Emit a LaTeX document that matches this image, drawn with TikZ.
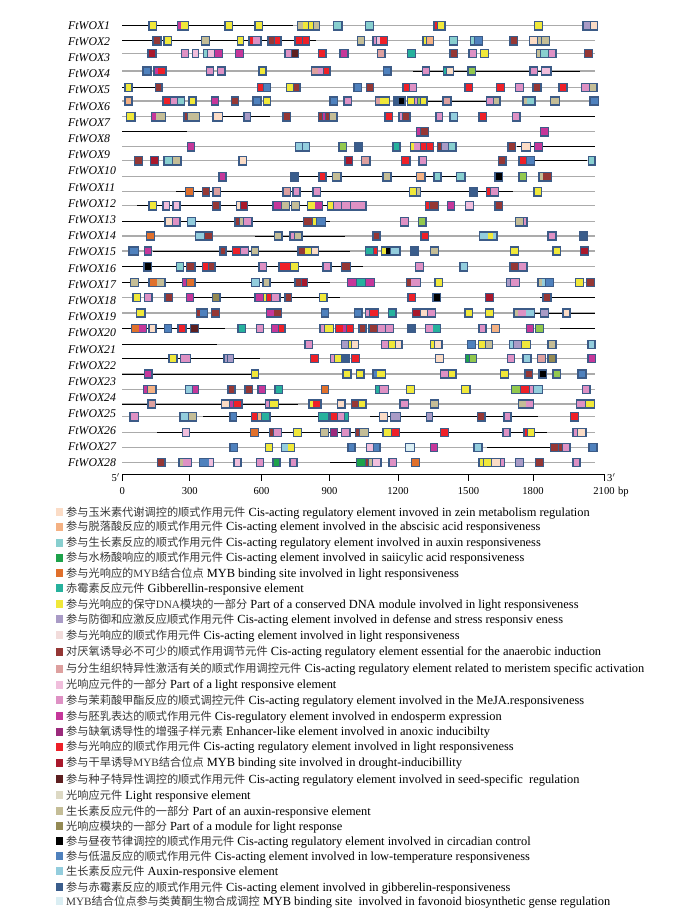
\documentclass[tikz,border=0pt]{standalone}
\usepackage{fontspec}
\setmainfont{Liberation Serif}
\newfontfamily\cjk{Noto Sans CJK SC}
\definecolor{zn}{HTML}{FBDCC6}
\definecolor{ab}{HTML}{F4B183}
\definecolor{at}{HTML}{88CFCF}
\definecolor{sa}{HTML}{1DA24A}
\definecolor{mo}{HTML}{E0702C}
\definecolor{gt}{HTML}{26B19D}
\definecolor{ye}{HTML}{F0E83A}
\definecolor{lv}{HTML}{A99BC6}
\definecolor{lp}{HTML}{F2DCDB}
\definecolor{br}{HTML}{953735}
\definecolor{ro}{HTML}{DDA09F}
\definecolor{pl}{HTML}{F0BEDC}
\definecolor{pk}{HTML}{DE91C4}
\definecolor{mg}{HTML}{C5379A}
\definecolor{pu}{HTML}{9B2A7C}
\definecolor{rd}{HTML}{EE2028}
\definecolor{dr}{HTML}{A9182C}
\definecolor{sd}{HTML}{5D1F20}
\definecolor{bg}{HTML}{DDD9C4}
\definecolor{tn}{HTML}{C4BD97}
\definecolor{ol}{HTML}{948A54}
\definecolor{bk}{HTML}{000000}
\definecolor{bl}{HTML}{4F81BD}
\definecolor{lb}{HTML}{93CDDD}
\definecolor{db}{HTML}{3A5D8C}
\definecolor{fb}{HTML}{DAEEF3}
\definecolor{lg}{HTML}{92C84E}
\definecolor{bord}{HTML}{3C5B87}
\definecolor{gln}{HTML}{ABABAB}
\tikzset{
  gl/.style={draw=gln,line width=1.2pt},
  kl/.style={draw=black,line width=0.8pt},
  lbl/.style={anchor=base west,inner sep=0pt,font=\fontsize{11.8}{14}\selectfont\itshape},
  legt/.style={anchor=base west,inner sep=0pt,font=\fontsize{12.4}{14}\selectfont},
  axl/.style={anchor=base,inner sep=0pt,font=\fontsize{10.6}{12}\selectfont},
  tk/.style={draw=black,line width=0.8pt}
}
\newcommand\gbx[3]{%
  \fill[fill=bord] (#1,\ry-4.8) rectangle (#2,\ry+4.8);
  \gdef\gtw{0}\gdef\gnc{0}%
  \foreach \cc/\ww in {#3}{\pgfmathsetmacro\tmp{\gtw+\ww}\xdef\gtw{\tmp}\pgfmathsetmacro\tmp{\gnc+1}\xdef\gnc{\tmp}}%
  \pgfmathsetmacro\gav{#2-#1-2.8-(\gnc-1)*0.8}%
  \pgfmathsetmacro\tmp{#1+1.4}\xdef\gcx{\tmp}%
  \foreach \cc/\ww in {#3}{\pgfmathsetmacro\gcw{\gav*\ww/\gtw}\fill[fill=\cc] (\gcx,\ry-3.4) rectangle ++(\gcw,6.8);\pgfmathsetmacro\tmp{\gcx+\gcw+0.8}\xdef\gcx{\tmp}}%
}
\newcommand\legrow[5]{%
  \fill[fill=#3] (56,#2-4) rectangle (63,#2+4);
  \node[legt] (leg#1) at (66,#2+4.2) {{\cjk\fontsize{11.2}{14}\selectfont\color{black!78}#4} #5};
}
\begin{document}
\begin{tikzpicture}[x=1pt,y=-1pt]
\useasboundingbox (0,0) rectangle (673,919);
% gene labels
\foreach \k in {1,...,28}{
  \pgfmathsetmacro\yy{25+(\k-1)*16.2+4}
  \node[lbl] (w\k) at (68,\yy) {FtWOX\k};
}
% rows
\def\ry{25.7}
\draw[gl] (122,\ry)--(595,\ry); \draw[kl] (122,\ry)--(293,\ry);
\gbx{148.3}{157.3}{ye/1}\gbx{176.7}{189.3}{mg/.4,ye/1}\gbx{224.3}{233.3}{ye/1}\gbx{254.3}{263.3}{ye/1}
\gbx{296.7}{320}{tn/1,ye/1,ye/1,tn/1}\gbx{332.7}{342.7}{at/1}\gbx{365}{374.3}{at/1}\gbx{433.3}{445.7}{rd/.4,ye/1}
\gbx{534}{543.3}{ye/1}\gbx{582.3}{598.3}{lv/1,zn/1}
\def\ry{40.7}
\draw[gl] (122,\ry)--(595,\ry); \draw[kl] (122,\ry)--(316,\ry);
\gbx{152.3}{161.7}{br/1}\gbx{163.3}{172.3}{ye/1}\gbx{200.7}{210}{tn/1}\gbx{236.7}{244.3}{ye/1}
\gbx{248.3}{261.7}{rd/.4,pk/1}\gbx{267.3}{281.7}{br/1,rd/1}\gbx{294.3}{310}{rd/1,rd/1}\gbx{356.7}{365}{tn/1}
\gbx{372.3}{388.3}{pk/.4,pl/.4,rd/1}\gbx{422.3}{434}{ye/.4,ab/1}\gbx{449}{458.3}{at/1}\gbx{470}{483.3}{at/.4,bl/1}
\gbx{509.3}{518.3}{br/1}\gbx{529}{550}{zn/1,tn/.4,tn/1}
\def\ry{53.3}
\draw[gl] (122,\ry)--(595,\ry);
\gbx{147.3}{156.7}{dr/1}\gbx{180.7}{189.3}{pk/1}\gbx{191.7}{199.3}{pl/1}\gbx{202.7}{223.3}{at/.4,pl/1,mg/1}
\gbx{235}{244}{mg/1}\gbx{284.3}{299.3}{pk/1,sd/1}\gbx{317.7}{326.7}{rd/1}\gbx{339.3}{348.7}{mg/1}
\gbx{376.7}{385.7}{ro/1}\gbx{406.7}{416}{gt/1}\gbx{449.3}{458.3}{br/1}\gbx{468.3}{477.3}{pk/1}
\gbx{480}{489}{ye/1}\gbx{536}{556.7}{tn/.4,at/1,pk/1}\gbx{584}{593.3}{br/1}
\def\ry{71}
\draw[gl] (122,\ry)--(595,\ry); \draw[kl] (413,\ry)--(580,\ry);
\gbx{142.3}{151.7}{bl/1}\gbx{153.3}{166.7}{mg/.4,rd/1}\gbx{205.7}{214.3}{pk/1}\gbx{216.7}{225.7}{pk/1}
\gbx{258.3}{266.7}{ye/1}\gbx{311}{330.7}{ro/1,pk/1,rd/1}\gbx{382.7}{391.7}{bl/1}\gbx{421.7}{430}{pk/1}
\gbx{442.7}{454.3}{gt/.4,zn/1}\gbx{467.3}{476}{lg/1}\gbx{529.3}{538.3}{pk/1}\gbx{541}{551.7}{pl/1}
\def\ry{87.3}
\draw[gl] (122,\ry)--(595,\ry); \draw[kl] (122,\ry)--(155,\ry);
\gbx{124.3}{132.7}{ye/1}\gbx{155}{162.7}{br/1}\gbx{256.7}{271}{rd/1,bl/1}\gbx{286}{300.7}{ye/1,br/1}
\gbx{353.3}{362.3}{bl/1}\gbx{365.7}{374.3}{br/1}\gbx{402.3}{417.3}{rd/1,pk/1}\gbx{464.3}{473.3}{rd/1}
\gbx{496}{505}{rd/1}\gbx{515}{524.3}{pk/1}\gbx{532.3}{541.7}{br/1}\gbx{558.3}{567.7}{rd/1}\gbx{581}{597.7}{pk/1,tn/1}
\def\ry{101}
\draw[gl] (122,\ry)--(595,\ry); \draw[kl] (426,\ry)--(487,\ry);
\gbx{124.3}{132.7}{ab/1}\gbx{162.3}{185}{rd/1,pk/1,at/1}\gbx{188.3}{196.7}{ye/1}\gbx{210.7}{219}{mg/1}
\gbx{230.7}{239.3}{br/1}\gbx{252.3}{261.7}{bl/1}\gbx{262.5}{271}{ye/1}\gbx{329.3}{338.3}{bl/1}
\gbx{343.3}{352.3}{pk/1}\gbx{375}{390}{ro/.4,ye/1}\gbx{393.3}{405.7}{db/.6,bk/1}\gbx{406.7}{427.7}{ye/1,pk/.4,lg/.4,ye/1}
\gbx{442.3}{451.7}{ro/1}\gbx{486}{500.7}{pk/1,tn/1}\gbx{522.3}{535.7}{tn/.4,at/1}\gbx{550}{560}{tn/1}\gbx{589.3}{599.3}{bl/1}
\def\ry{116.7}
\draw[gl] (122,\ry)--(595,\ry); \draw[kl] (220,\ry)--(270,\ry); \draw[kl] (540,\ry)--(595,\ry);
\gbx{126}{135.7}{ye/1}\gbx{151}{166}{mg/.4,tn/1}\gbx{183.3}{200}{br/.4,tn/1,tn/1}\gbx{212.3}{223.3}{zn/1}
\gbx{243.3}{251}{lv/1}\gbx{282.3}{291}{br/1}\gbx{317.7}{337.7}{br/.4,mg/.4,br/.4,tn/1}\gbx{384.3}{393.3}{rd/1}
\gbx{398.3}{410.7}{pk/.4,br/1}\gbx{435.3}{443.3}{pk/1}\gbx{449.3}{458.3}{lb/1}\gbx{478.3}{487.3}{rd/1}\gbx{511.7}{520.7}{pk/1}
\def\ry{131.7}
\draw[gl] (122,\ry)--(595,\ry); \draw[kl] (122,\ry)--(187,\ry);
\gbx{416}{429.3}{mg/.4,br/1}\gbx{540}{549}{mg/1}
\def\ry{146.7}
\draw[gl] (122,\ry)--(595,\ry); \draw[kl] (517,\ry)--(595,\ry);
\gbx{186.7}{195}{mg/1}\gbx{295}{310}{lb/1,lb/1}\gbx{338.3}{347.3}{lg/1}\gbx{354.3}{363.3}{db/1}
\gbx{392.3}{400.7}{gt/1}\gbx{410}{434}{ye/.4,pk/1,rd/1,rd/1}\gbx{436.7}{456.7}{br/.4,lv/1,at/1}
\gbx{507.3}{516}{br/1}\gbx{521}{531}{zn/1}\gbx{534}{543.3}{mg/1}
\def\ry{160.7}
\draw[gl] (122,\ry)--(595,\ry); \draw[kl] (533,\ry)--(587,\ry);
\gbx{134}{143.3}{br/1}\gbx{150}{159.3}{dr/1}\gbx{163.3}{181.7}{at/1,tn/1}\gbx{238.3}{247.3}{zn/1}
\gbx{344.3}{353.3}{dr/1}\gbx{361}{370.7}{ro/1}\gbx{401}{410.7}{rd/1}\gbx{418.3}{427.3}{pk/1}
\gbx{497.7}{506.7}{br/1}\gbx{518.3}{535}{rd/1,bl/1}\gbx{587.7}{595.7}{at/1}
\def\ry{176.7}
\draw[gl] (122,\ry)--(595,\ry); \draw[kl] (293,\ry)--(463,\ry);
\gbx{218.3}{226.7}{mg/1}\gbx{290}{299.3}{db/1}\gbx{318.3}{326.7}{rd/1}\gbx{331.7}{341.7}{tn/1}
\gbx{382.3}{391.7}{tn/1}\gbx{416}{425.7}{ab/1}\gbx{433.3}{441.7}{at/1}\gbx{456}{465.7}{at/1}
\gbx{494.3}{503.3}{bk/1}\gbx{518.3}{527.3}{lg/1}\gbx{538.3}{552.3}{tn/.4,br/1}
\def\ry{191.7}
\draw[gl] (122,\ry)--(595,\ry); \draw[kl] (176,\ry)--(513,\ry);
\gbx{185}{194.3}{mo/1}\gbx{201.7}{210}{br/1}\gbx{212.3}{221}{ro/1}\gbx{282.3}{291}{ro/1}
\gbx{292.3}{300.7}{pk/1}\gbx{312.3}{321}{pk/1}\gbx{409}{421}{ye/1,tn/.4}\gbx{469.3}{477.7}{db/1}
\gbx{485.7}{499.3}{rd/.4,pk/1}\gbx{533.3}{542.3}{ye/1}
\def\ry{205.7}
\draw[gl] (122,\ry)--(595,\ry); \draw[kl] (137,\ry)--(363,\ry);
\gbx{148.3}{157.3}{ye/1}\gbx{162.3}{170}{pl/1}\gbx{172.3}{180.7}{pl/1}\gbx{211.7}{220.7}{br/1}
\gbx{236}{248.3}{zn/.4,dr/1}\gbx{272.3}{290}{mg/1,tn/1}\gbx{291}{300}{tn/1}\gbx{306.7}{323.3}{ye/1,mg/1}
\gbx{327}{366.7}{ye/.6,pk/1,pk/1,pk/.5,pk/1.3}\gbx{425}{439}{rd/.4,br/1}\gbx{446.7}{455}{mg/1}
\gbx{465}{474}{pl/1}\gbx{494.3}{503.3}{br/1}
\def\ry{221.7}
\draw[gl] (122,\ry)--(595,\ry); \draw[kl] (122,\ry)--(330,\ry);
\gbx{164.3}{180.7}{zn/1,pk/1}\gbx{186.7}{196}{lb/1}\gbx{234.3}{252.7}{br/.4,tn/.4,pk/1}
\gbx{302.7}{326}{br/1,ye/.4,bl/1}\gbx{400}{409}{pk/1}\gbx{418}{426.7}{lg/1}\gbx{515}{527.7}{tn/1,pk/.4}
\def\ry{236}
\draw[gl] (122,\ry)--(595,\ry); \draw[kl] (255,\ry)--(345,\ry);
\gbx{146}{155}{mo/1}\gbx{195}{213.3}{lb/1,br/1}\gbx{274}{282.7}{tn/1}\gbx{289.3}{302.7}{pk/.6,tn/1}
\gbx{372.3}{380.7}{br/1}\gbx{420.3}{429.3}{rd/1}\gbx{479}{497.7}{lb/1,ye/.6,lb/.4}
\gbx{547.3}{556.7}{pk/1}\gbx{579}{587.7}{db/1}
\def\ry{251}
\draw[gl] (122,\ry)--(595,\ry); \draw[kl] (153,\ry)--(350,\ry);
\gbx{128.3}{139}{bl/1}\gbx{144}{152.3}{mg/1}\gbx{219.3}{226.7}{br/1}\gbx{231.7}{249}{rd/1,pk/1}
\gbx{250.7}{259.3}{tn/1}\gbx{297.3}{319.3}{br/1,ye/1,zn/1}\gbx{365}{378.3}{gt/1,rd/.4}
\gbx{380.7}{400.7}{ye/.4,bk/.4,lb/1}\gbx{410}{419.3}{db/1}\gbx{430}{439.3}{tn/1}
\gbx{510}{519.3}{ye/1}\gbx{552.3}{561}{ye/1}\gbx{580}{589.3}{dr/1}
\def\ry{266.7}
\draw[gl] (122,\ry)--(595,\ry); \draw[kl] (122,\ry)--(363,\ry);
\gbx{143.3}{152.3}{bk/1}\gbx{176}{184.3}{at/1}\gbx{186}{195.7}{br/1}\gbx{201.7}{215.7}{rd/1,br/1}
\gbx{258.3}{267.3}{pk/1}\gbx{278.3}{299.3}{rd/1,rd/.4,ye/1}\gbx{322.3}{331.7}{pk/1}\gbx{341}{351}{br/1}
\gbx{415}{424.3}{pk/1}\gbx{459.3}{468.3}{lb/1}\gbx{509.3}{527.7}{br/1,pk/1}
\def\ry{282.3}
\draw[gl] (122,\ry)--(595,\ry); \draw[kl] (122,\ry)--(330,\ry);
\gbx{130}{139}{tn/1}\gbx{148.3}{165.7}{mo/1,tn/1}\gbx{181.7}{195.7}{mg/.4,mo/1}\gbx{250.7}{260}{lb/1}
\gbx{262.3}{270.7}{tn/1}\gbx{294.3}{308.3}{br/1,dr/1}\gbx{346.7}{375}{mg/1,gt/1,mg/1}
\gbx{406}{421}{br/.4,pk/1}\gbx{434.3}{443.3}{ye/1}\gbx{505.7}{520}{lv/.4,pk/1}
\gbx{537.3}{554.3}{tn/.4,lb/.4,bl/1}\gbx{575}{584}{ye/1}\gbx{585.7}{595}{br/1}
\def\ry{297.3}
\draw[gl] (122,\ry)--(595,\ry); \draw[kl] (193,\ry)--(340,\ry); \draw[kl] (540,\ry)--(595,\ry);
\gbx{132.3}{141}{ye/1}\gbx{144}{152.7}{pk/1}\gbx{164.3}{173.3}{br/1}\gbx{185.7}{194}{mg/1}
\gbx{211.7}{220.7}{ol/1}\gbx{254.3}{280.7}{mg/1,ye/.4,rd/.6,pk/1}\gbx{284.3}{292.3}{br/1}
\gbx{319}{327.7}{ye/1}\gbx{407.3}{416}{rd/1}\gbx{432.3}{441}{bk/1}\gbx{485}{494}{dr/1}\gbx{542.3}{551.7}{br/1}
\def\ry{313}
\draw[gl] (122,\ry)--(595,\ry); \draw[kl] (533,\ry)--(595,\ry);
\gbx{135.7}{145.7}{ye/1}\gbx{195.7}{208.3}{br/.4,bl/1}\gbx{211}{220}{br/1}\gbx{265.7}{282.3}{mg/1,br/1}
\gbx{320.7}{329.3}{bl/1}\gbx{354}{362.7}{bl/1}\gbx{365}{379}{pk/.4,rd/1}\gbx{387.7}{396.7}{gt/1}
\gbx{411.7}{436}{dr/1,zn/1,pk/1}\gbx{464.3}{473.3}{ye/1}\gbx{485}{494}{ye/1}
\gbx{513.3}{535}{tn/.4,pk/1,lb/1}\gbx{540}{549}{lv/1}\gbx{562.3}{570.7}{zn/1}
\def\ry{328.3}
\draw[gl] (122,\ry)--(595,\ry); \draw[kl] (122,\ry)--(225,\ry); \draw[kl] (560,\ry)--(595,\ry);
\gbx{130.7}{147.3}{mo/1,mg/1}\gbx{148.3}{156.7}{zn/1}\gbx{164}{172.3}{bl/1}\gbx{177.3}{186.7}{rd/1}
\gbx{190}{199}{sd/1}\gbx{237.3}{246}{gt/1}\gbx{256}{264.3}{pk/1}\gbx{270.7}{285.7}{mg/1,rd/1}
\gbx{319.3}{334}{pk/.4,ye/1}\gbx{335}{354.3}{rd/1,mg/.4,rd/1}\gbx{358.3}{366.7}{br/1}
\gbx{368.3}{394.3}{br/1,pk/1,pk/1}\gbx{407.3}{415.7}{db/1}\gbx{425}{441}{pk/1,gt/1}
\gbx{478.3}{486.7}{pk/1}\gbx{491}{500}{ab/1}\gbx{525.7}{534.3}{mg/1}\gbx{535}{544}{lg/1}
\def\ry{344.3}
\draw[gl] (122,\ry)--(595,\ry); \draw[kl] (122,\ry)--(217,\ry);
\gbx{304.3}{313.3}{pk/1}\gbx{341}{359.3}{lv/1,ye/.4,zn/1}\gbx{381}{402.7}{pk/1,ye/1,zn/1}
\gbx{430}{442.7}{ye/.4,zn/1}\gbx{466.7}{476}{bl/1}\gbx{477.7}{493.3}{ye/1,tn/1}
\gbx{509}{531}{lb/.4,lv/1,ye/1}\gbx{547.3}{556.7}{tn/1}\gbx{587.3}{595.7}{lb/1}
\def\ry{358.3}
\draw[gl] (122,\ry)--(595,\ry); \draw[kl] (122,\ry)--(260,\ry);
\gbx{168.3}{177.7}{ye/1}\gbx{180}{191}{pk/.4,pk/1}\gbx{223.3}{234}{lv/.4,lv/1}\gbx{310}{319.3}{rd/1}
\gbx{330}{350}{pk/.4,ye/1,db/1}\gbx{351}{360}{rd/1}\gbx{435}{444}{zn/1}\gbx{465}{477.3}{sa/.4,lg/1}
\gbx{506.7}{515.3}{pk/1}\gbx{522.3}{531.7}{lb/1}\gbx{536.7}{546}{ro/1}\gbx{547.3}{556.7}{ol/1}\gbx{587.3}{596}{mg/1}
\def\ry{374}
\draw[gl] (122,\ry)--(595,\ry); \draw[kl] (122,\ry)--(253,\ry);
\gbx{144}{152.7}{mg/1}\gbx{250.7}{259.3}{ye/1}\gbx{342.3}{351.7}{ye/1}\gbx{356}{364.7}{ye/1}
\gbx{372.3}{386}{bl/.4,ye/1}\gbx{440}{456.7}{pk/1,ye/1}\gbx{500}{509}{ye/1}\gbx{524.3}{533.3}{br/1}
\gbx{538.3}{547.3}{bk/1}\gbx{552.3}{561}{lg/1}\gbx{577.3}{586.7}{bl/1}
\def\ry{389.3}
\draw[gl] (122,\ry)--(595,\ry);
\gbx{142.7}{156.7}{mg/.4,ab/1}\gbx{185}{199.3}{lb/1,mg/1}\gbx{227.3}{235.7}{br/1}\gbx{244.3}{253.3}{br/1}
\gbx{257.3}{266}{mg/1}\gbx{274.3}{283.3}{gt/1}\gbx{320.7}{329}{mo/1}\gbx{375}{389}{gt/.4,pk/1}
\gbx{406}{415}{ye/1}\gbx{461}{470.7}{ye/1}\gbx{511}{543.3}{lg/1,rd/1,pk/.4,lb/1}\gbx{581.7}{590.7}{pk/1}
\def\ry{404}
\draw[gl] (122,\ry)--(595,\ry); \draw[kl] (122,\ry)--(298,\ry);
\gbx{147.3}{156}{ro/1}\gbx{220.7}{242.7}{zn/1,mg/.4,rd/1}\gbx{265}{279}{pk/.4,ye/1}\gbx{308.3}{321.7}{ye/.4,rd/1}
\gbx{336.7}{345.7}{zn/1}\gbx{350.7}{366.7}{br/1,ye/1}\gbx{399.3}{409}{pk/1}\gbx{430}{439}{tn/1}
\gbx{517.7}{534.3}{tn/1,pk/1}\gbx{576}{595}{pk/1,ye/1}
\def\ry{416.7}
\draw[gl] (122,\ry)--(595,\ry); \draw[kl] (203,\ry)--(330,\ry); \draw[kl] (370,\ry)--(538,\ry);
\gbx{129.3}{139}{pk/1}\gbx{179.3}{197.3}{lb/1,tn/1}\gbx{229.3}{237.3}{bl/1}\gbx{251}{270.7}{rd/.6,ab/.4,gt/1}
\gbx{317.7}{329}{gt/1}\gbx{329.3}{349.3}{rd/1,pk/1,gt/.5}\gbx{379}{388.3}{zn/1}\gbx{390}{401}{lv/1}
\gbx{425.7}{433.3}{lv/1}\gbx{476.7}{485.7}{br/1}\gbx{503.3}{511.7}{pk/1}\gbx{570}{579}{rd/1}
\def\ry{432.3}
\draw[gl] (122,\ry)--(595,\ry); \draw[kl] (157,\ry)--(547,\ry);
\gbx{181.7}{190}{pl/1}\gbx{250}{259.3}{mo/1}\gbx{269}{282.3}{br/.4,pk/1}\gbx{292.7}{302.3}{ye/1}
\gbx{320}{329.3}{tn/1}\gbx{330}{338.3}{pu/1}\gbx{341}{350.7}{pk/1}\gbx{355}{369}{br/.4,tn/1}
\gbx{382.3}{400}{ye/1,rd/1}\gbx{440}{449.3}{rd/1}\gbx{502.3}{510.7}{pk/1}\gbx{523.3}{535}{rd/.4,ye/1}
\gbx{572.3}{586.7}{pk/.4,zn/1}
\def\ry{447.3}
\draw[gl] (122,\ry)--(595,\ry); \draw[kl] (487,\ry)--(550,\ry);
\gbx{229.3}{238.3}{bl/1}\gbx{265}{273.3}{ye/1}\gbx{281}{295}{lb/1,ye/1}\gbx{347.3}{355.7}{bl/1}
\gbx{366}{380.7}{pl/1,bl/1}\gbx{405}{415}{fb/1}\gbx{430}{438.3}{mg/1}\gbx{473.3}{482.7}{lb/1}
\gbx{550}{570.7}{br/1,br/.4,pk/1}\gbx{588.3}{597.7}{bl/1}
\def\ry{462.3}
\draw[gl] (122,\ry)--(595,\ry); \draw[kl] (330,\ry)--(357,\ry);
\gbx{156.7}{165.7}{br/1}\gbx{178.3}{192.3}{tn/.4,pk/1}\gbx{199}{214}{bl/1,pl/.4}\gbx{233.3}{241.7}{pl/1}
\gbx{256}{264.3}{pk/1}\gbx{272.3}{280.7}{sa/1}\gbx{289.3}{297.7}{pk/1}\gbx{356}{381.7}{sa/1,br/.4,tn/.4,pl/1}
\gbx{388.3}{397.3}{pk/1}\gbx{411}{420}{mo/1}\gbx{478.3}{505}{ye/.4,ye/1,zn/1,pk/.4}\gbx{515}{524}{lv/1}
\gbx{535}{544.3}{br/1}\gbx{572.3}{580.7}{pk/1}
% axis
\coordinate (a0) at (122.3,474);
\coordinate (a1) at (604,474);
\draw[tk] (a0)--(a1);
\foreach \v/\xx in {0/122.3,300/189.7,600/261.5,900/329.5,1200/398,1500/468.5,1800/533,2100/604}{
  \draw[tk] (\xx,474)--(\xx,480.5);
  \node[axl] (t\v) at (\xx,494) {\v};
}
\node[axl,anchor=base west] (bp) at ([xshift=3pt]t2100.base east) {bp};
\node[axl,anchor=base east] (p5) at (120,481) {5$'$};
\node[axl,anchor=base west] (p3) at (607,481) {3$'$};
% legend
\legrow{1}{512.3}{zn}{参与玉米素代谢调控的顺式作用元件}{Cis-acting regulatory element invoved in zein metabolism regulation}
\legrow{2}{526.7}{ab}{参与脱落酸反应的顺式作用元件}{Cis-acting element involved in the abscisic acid responsiveness}
\legrow{3}{542.7}{at}{参与生长素反应的顺式作用元件}{Cis-acting regulatory element involved in auxin responsiveness}
\legrow{4}{557.7}{sa}{参与水杨酸响应的顺式作用元件}{Cis-acting element involved in saiicylic acid responsiveness}
\legrow{5}{573.3}{mo}{参与光响应的\textrm{MYB}结合位点}{MYB binding site involved in light responsiveness}
\legrow{6}{588.3}{gt}{赤霉素反应元件}{Gibberellin-responsive element}
\legrow{7}{604}{ye}{参与光响应的保守\textrm{DNA}模块的一部分}{Part of a conserved DNA module involved in light responsiveness}
\legrow{8}{619.3}{lv}{参与防御和应激反应顺式作用元件}{Cis-acting element involved in defense and stress responsiv eness}
\legrow{9}{635}{lp}{参与光响应的顺式作用元件}{Cis-acting element involved in light responsiveness}
\legrow{10}{651.7}{br}{对厌氧诱导必不可少的顺式作用调节元件}{Cis-acting regulatory element essential for the anaerobic induction}
\legrow{11}{668.5}{ro}{与分生组织特异性激活有关的顺式作用调控元件}{Cis-acting regulatory element related to meristem specific activation}
\legrow{12}{684.5}{pl}{光响应元件的一部分}{Part of a light responsive element}
\legrow{13}{700}{pk}{参与茉莉酸甲酯反应的顺式调控元件}{Cis-acting regulatory element involved in the MeJA.responsiveness}
\legrow{14}{716}{mg}{参与胚乳表达的顺式作用元件}{Cis-regulatory element involved in endosperm expression}
\legrow{15}{731.7}{pu}{参与缺氧诱导性的增强子样元素}{Enhancer-like element involved in anoxic inducibilty}
\legrow{16}{746.7}{rd}{参与光响应的顺式作用元件}{Cis-acting regulatory element involved in light responsiveness}
\legrow{17}{762.5}{dr}{参与干旱诱导\textrm{MYB}结合位点}{MYB binding site involved in drought-inducibillity}
\legrow{18}{779}{sd}{参与种子特异性调控的顺式作用元件}{Cis-acting regulatory element involved in seed-specific\ \ regulation}
\legrow{19}{795}{bg}{光响应元件}{Light responsive element}
\legrow{20}{811}{tn}{生长素反应元件的一部分}{Part of an auxin-responsive element}
\legrow{21}{826}{ol}{光响应模块的一部分}{Part of a module for light response}
\legrow{22}{841}{bk}{参与昼夜节律调控的顺式作用元件}{Cis-acting regulatory element involved in circadian control}
\legrow{23}{856}{bl}{参与低温反应的顺式作用元件}{Cis-acting element involved in low-temperature responsiveness}
\legrow{24}{871}{lb}{生长素反应元件}{Auxin-responsive element}
\legrow{25}{887}{db}{参与赤霉素反应的顺式作用元件}{Cis-acting element involved in gibberelin-responsiveness}
\legrow{26}{901}{fb}{\textrm{MYB}结合位点参与类黄酮生物合成调控}{MYB binding site\ \ involved in favonoid biosynthetic gense regulation}
\end{tikzpicture}
\end{document}
